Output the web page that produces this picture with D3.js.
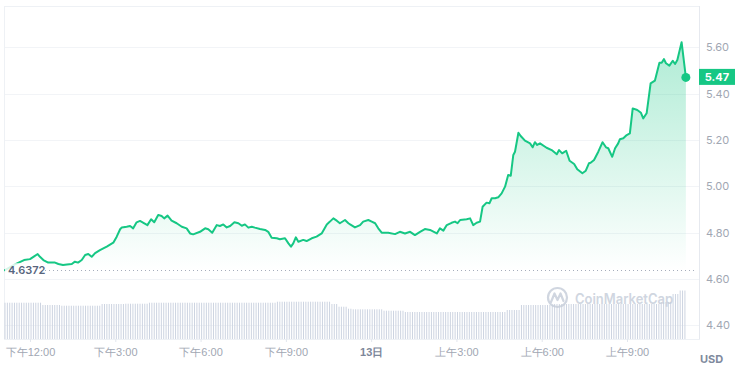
<!DOCTYPE html>
<html>
<head>
<meta charset="utf-8">
<script src="https://cdn.jsdelivr.net/npm/d3@7/dist/d3.min.js"></script>
<style>
  html, body { margin: 0; padding: 0; background: #fff; }
  svg { display: block; font-family: Inter, "Noto Sans CJK SC", "Noto Sans", sans-serif; }
</style>
</head>
<body>
<svg id="chart" width="735" height="370"></svg>
<script>
// ---- data (hours since 00:00 on day 12; prices in USD) ----
const hours = [11.12, 11.47, 11.79, 12.0, 12.12, 12.27, 12.35, 12.47, 12.64, 12.76, 12.88, 13.0, 13.16, 13.3, 13.47, 13.58, 13.69, 13.82, 13.94, 14.05, 14.17, 14.29, 14.46, 14.7, 14.93, 15.05, 15.17, 15.23, 15.4, 15.52, 15.63, 15.75, 15.87, 15.99, 16.13, 16.26, 16.37, 16.51, 16.63, 16.72, 16.84, 16.98, 17.16, 17.34, 17.51, 17.63, 17.74, 17.98, 18.16, 18.27, 18.41, 18.57, 18.68, 18.8, 18.92, 19.04, 19.19, 19.33, 19.45, 19.56, 19.68, 19.8, 19.91, 20.09, 20.27, 20.38, 20.5, 20.68, 20.79, 20.97, 21.09, 21.18, 21.26, 21.35, 21.44, 21.61, 21.73, 21.91, 22.08, 22.26, 22.44, 22.55, 22.67, 22.79, 22.9, 23.08, 23.2, 23.26, 23.43, 23.61, 23.72, 23.9, 24.02, 24.14, 24.25, 24.37, 24.6, 24.84, 25.01, 25.19, 25.37, 25.54, 25.72, 25.89, 26.07, 26.31, 26.42, 26.54, 26.66, 26.83, 26.95, 27.04, 27.13, 27.36, 27.48, 27.59, 27.71, 27.83, 27.92, 28.06, 28.16, 28.24, 28.36, 28.47, 28.59, 28.71, 28.82, 28.91, 29.0, 29.06, 29.18, 29.26, 29.41, 29.59, 29.68, 29.76, 29.84, 29.94, 30.17, 30.35, 30.53, 30.61, 30.72, 30.86, 30.98, 31.14, 31.25, 31.43, 31.55, 31.66, 31.72, 31.84, 31.99, 32.14, 32.26, 32.34, 32.48, 32.58, 32.69, 32.75, 32.87, 32.99, 33.1, 33.2, 33.36, 33.49, 33.57, 33.69, 33.83, 33.98, 34.14, 34.22, 34.3, 34.37, 34.49, 34.61, 34.69, 34.77, 34.92, 35.07];
const prices = [4.637, 4.662, 4.681, 4.685, 4.695, 4.707, 4.695, 4.681, 4.67, 4.67, 4.67, 4.664, 4.66, 4.662, 4.664, 4.674, 4.67, 4.681, 4.703, 4.707, 4.695, 4.711, 4.724, 4.739, 4.756, 4.782, 4.814, 4.822, 4.825, 4.828, 4.818, 4.844, 4.85, 4.842, 4.832, 4.857, 4.844, 4.876, 4.871, 4.861, 4.873, 4.851, 4.84, 4.825, 4.818, 4.796, 4.792, 4.803, 4.818, 4.814, 4.799, 4.832, 4.828, 4.835, 4.822, 4.828, 4.844, 4.84, 4.829, 4.835, 4.821, 4.825, 4.821, 4.815, 4.811, 4.803, 4.777, 4.775, 4.771, 4.775, 4.753, 4.739, 4.753, 4.779, 4.76, 4.768, 4.763, 4.775, 4.782, 4.796, 4.835, 4.847, 4.861, 4.851, 4.84, 4.854, 4.84, 4.835, 4.822, 4.832, 4.847, 4.854, 4.847, 4.84, 4.818, 4.799, 4.799, 4.793, 4.803, 4.796, 4.803, 4.789, 4.803, 4.815, 4.811, 4.796, 4.818, 4.808, 4.832, 4.842, 4.847, 4.84, 4.854, 4.857, 4.861, 4.832, 4.842, 4.847, 4.911, 4.929, 4.926, 4.948, 4.948, 4.952, 4.969, 4.998, 5.048, 5.045, 5.135, 5.149, 5.231, 5.217, 5.197, 5.185, 5.168, 5.19, 5.178, 5.185, 5.166, 5.156, 5.138, 5.156, 5.142, 5.153, 5.11, 5.096, 5.073, 5.056, 5.067, 5.099, 5.101, 5.113, 5.149, 5.19, 5.168, 5.164, 5.127, 5.164, 5.185, 5.203, 5.207, 5.221, 5.228, 5.336, 5.329, 5.317, 5.293, 5.315, 5.444, 5.456, 5.533, 5.533, 5.549, 5.531, 5.521, 5.542, 5.528, 5.545, 5.622, 5.47];

// 24h volume level (arbitrary units), constant from each start hour to the next
const volStartHours = [11.1, 12.44, 13.06, 14.46, 15.34, 16.15, 20.62, 22.55, 22.8, 23.15, 23.33, 24.42, 25.12, 28.71, 29.24, 30.4, 34.16, 34.6, 34.8];
const volLevels = [36.3, 34, 33.3, 35, 35.3, 36.3, 37.3, 35, 32.3, 30.3, 29.7, 28.3, 27, 29, 34, 35, 37, 45, 48.5];

const yTicks = [4.40, 4.60, 4.80, 5.00, 5.20, 5.40, 5.60];
const xTickHours = [12, 15, 18, 21, 24, 27, 30, 33];
const xTickLabels = ["下午12:00", "下午3:00", "下午6:00", "下午9:00", "13日", "上午3:00", "上午6:00", "上午9:00"];
const openPrice = 4.6372;
const lastPrice = 5.47;
const currency = "USD";

// ---- layout ----
const svg = d3.select("#chart");
const L = 4, R = 699, T = 6, B = 339;
const green = "#16c784";

const x = d3.scaleLinear().domain([11.0854, 35.532]).range([L, R]);
const y = d3.scaleLinear().domain([4.40, 5.60]).range([325.1, 47.3]);
const v = d3.scaleLinear().domain([0, 100]).range([B, B - 100]);

const defs = svg.append("defs");
const grad = defs.append("linearGradient").attr("id", "fillGrad")
  .attr("gradientUnits", "userSpaceOnUse").attr("x1", 0).attr("x2", 0)
  .attr("y1", y(5.62)).attr("y2", y(openPrice));
grad.append("stop").attr("offset", 0).attr("stop-color", green).attr("stop-opacity", 0.34);
grad.append("stop").attr("offset", 1).attr("stop-color", green).attr("stop-opacity", 0.0);

// gridlines
svg.append("g").selectAll("line").data(yTicks).join("line")
  .attr("x1", L).attr("x2", R)
  .attr("y1", d => Math.round(y(d)) + 0.5).attr("y2", d => Math.round(y(d)) + 0.5)
  .attr("stroke", "#f2f4f7").attr("stroke-width", 1);

// frame
svg.append("rect").attr("x", L + 0.5).attr("y", T + 0.5)
  .attr("width", R - L).attr("height", B - T)
  .attr("fill", "none").attr("stroke", "#eef1f5");
svg.append("line").attr("x1", R + 0.5).attr("x2", R + 0.5).attr("y1", T).attr("y2", B)
  .attr("stroke", "#e6e9ef");

// volume bars
const barHours = d3.range(hours[0], hours[hours.length - 1] + 0.001, 1 / 12);
const volAt = h => volLevels[Math.max(0, d3.bisectRight(volStartHours, h) - 1)];
svg.append("g").selectAll("rect").data(barHours).join("rect")
  .attr("x", d => x(d) - 0.5).attr("width", 1)
  .attr("y", d => v(volAt(d))).attr("height", d => B - v(volAt(d)))
  .attr("fill", "#cdd4e1");

// watermark
const wm = svg.append("g").attr("opacity", 0.85);
wm.append("circle").attr("cx", 557.5).attr("cy", 297.5).attr("r", 9.5)
  .attr("fill", "none").attr("stroke", "#c8cfdb").attr("stroke-width", 2.2);
wm.append("path")
  .attr("d", "M551,302 L554.5,293.5 L557.5,300 L560.5,293.5 L563.5,301")
  .attr("fill", "none").attr("stroke", "#c8cfdb").attr("stroke-width", 2.2)
  .attr("stroke-linejoin", "round").attr("stroke-linecap", "round");
wm.append("text").attr("x", 575).attr("y", 303.5)
  .attr("font-size", 14).attr("font-weight", 600).attr("fill", "#c8cfdb")
  .attr("textLength", 98).attr("lengthAdjust", "spacingAndGlyphs")
  .text("CoinMarketCap");

// area + line
const pts = hours.map((h, i) => [h, prices[i]]);
svg.append("path").datum(pts)
  .attr("d", d3.area().x(d => x(d[0])).y0(y(openPrice)).y1(d => y(d[1])))
  .attr("fill", "url(#fillGrad)");
svg.append("path").datum(pts)
  .attr("d", d3.line().x(d => x(d[0])).y(d => y(d[1])))
  .attr("fill", "none").attr("stroke", green).attr("stroke-width", 2)
  .attr("stroke-linejoin", "round").attr("stroke-linecap", "round");

// open price reference
svg.append("line")
  .attr("x1", 45).attr("x2", R - 2)
  .attr("y1", Math.round(y(openPrice)) + 0.5).attr("y2", Math.round(y(openPrice)) + 0.5)
  .attr("stroke", "#a6adbb").attr("stroke-width", 1).attr("stroke-dasharray", "1,3");
svg.append("rect").attr("x", L + 1).attr("y", y(openPrice) - 7)
  .attr("width", 40).attr("height", 14).attr("fill", "rgba(255,255,255,0.82)");
svg.append("text").attr("x", 8).attr("y", y(openPrice)).attr("dy", "0.35em")
  .attr("font-size", 11).attr("font-weight", 600).attr("fill", "#58667e")
  .text(String(openPrice));

// last point
svg.append("circle").attr("cx", x(hours[hours.length - 1])).attr("cy", y(prices[prices.length - 1]))
  .attr("r", 4.5).attr("fill", green);

// y axis (right)
const yAxis = d3.axisRight(y).tickValues(yTicks).tickFormat(d3.format(".2f")).tickSize(0).tickPadding(7);
const gy = svg.append("g").attr("transform", `translate(${R},0)`).call(yAxis);
gy.select(".domain").remove();
gy.selectAll("text").attr("font-size", 11).attr("fill", "#a1a7b3").attr("font-family", "Inter");

// last price badge
svg.append("rect").attr("x", R).attr("y", y(lastPrice) - 8.5).attr("width", 36).attr("height", 16)
  .attr("fill", green);
svg.append("text").attr("x", R + 18).attr("y", y(lastPrice)).attr("dy", "0.35em")
  .attr("text-anchor", "middle").attr("font-size", 11).attr("font-weight", 700).attr("fill", "#fff")
  .text(lastPrice.toFixed(2));

// x axis
const xAxis = d3.axisBottom(x).tickValues(xTickHours)
  .tickFormat((d, i) => xTickLabels[i]).tickSize(3).tickPadding(6);
const gx = svg.append("g").attr("transform", `translate(0,${B})`).call(xAxis);
gx.select(".domain").remove();
gx.selectAll(".tick line").attr("stroke", "#e3e7ee");
gx.selectAll("text").attr("font-size", 11).attr("fill", "#a1a7b3")
  .attr("font-weight", d => d === 24 ? 700 : 400)
  .attr("fill", d => d === 24 ? "#7d879a" : "#a1a7b3");

svg.append("text").attr("x", 700).attr("y", 359).attr("dy", "0.35em")
  .attr("font-size", 11).attr("font-weight", 700).attr("fill", "#808a9d").text(currency);
</script>
</body>
</html>
